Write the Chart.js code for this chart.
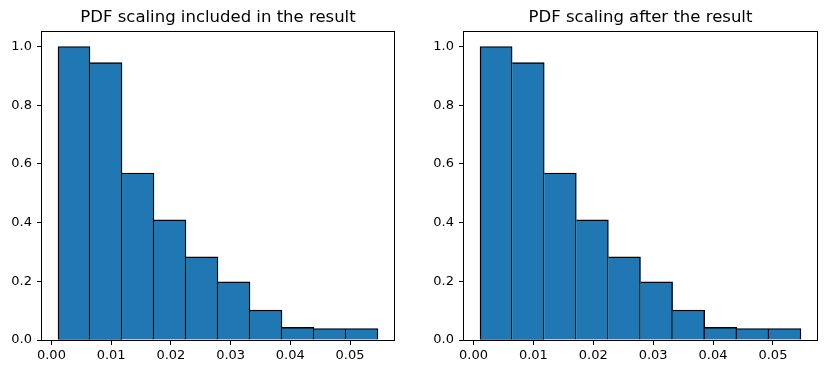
<!DOCTYPE html>
<html>
<head>
<meta charset="utf-8">
<script src="https://cdn.jsdelivr.net/npm/chart.js@4"></script>
<style>
  body { margin: 0; background: #fff; width: 826px; height: 374px; overflow: hidden; }
  canvas { position: absolute; top: 0; }
</style>
</head>
<body>
<canvas id="leftChart" width="413" height="374" style="left:0px"></canvas>
<canvas id="rightChart" width="404" height="374" style="left:422px"></canvas>
<script>
// histogram bin edges (10 bins) and normalised heights
const binEdges = [0.00110, 0.00646, 0.01182, 0.01717, 0.02253, 0.02789, 0.03325, 0.03861, 0.04397, 0.04932, 0.05468];
const includedValues = [1.0, 0.945, 0.569, 0.409, 0.283, 0.198, 0.102, 0.043, 0.039, 0.039];
const afterValues = [1.0, 0.945, 0.569, 0.409, 0.283, 0.198, 0.102, 0.043, 0.039, 0.039];
const xTicks = [0.00, 0.01, 0.02, 0.03, 0.04, 0.05];
const yTicks = [0.0, 0.2, 0.4, 0.6, 0.8, 1.0];

const FONT = 'DejaVu Sans';
Chart.defaults.font.family = FONT;
Chart.defaults.color = '#000';

// matplotlib-ish 5% margins around the bins
const span = binEdges[binEdges.length - 1] - binEdges[0];
const xMin = binEdges[0] - span * 0.05;
const xMax = binEdges[binEdges.length - 1] + span * 0.05;

// box around the plot area
const framePlugin = {
    id: 'frame',
    afterDatasetsDraw(chart) {
        const { ctx, chartArea: a } = chart;
        ctx.save();
        ctx.strokeStyle = '#000';
        ctx.lineWidth = 1;
        ctx.strokeRect(Math.round(a.left) - 0.5, Math.round(a.top) - 0.5,
            Math.round(a.right - a.left) + 1, Math.round(a.bottom - a.top) + 1);
        ctx.restore();
    }
};

function makeChart(id, title, values, padRight) {
    const centers = values.map((v, i) => (binEdges[i] + binEdges[i + 1]) / 2);
    return new Chart(document.getElementById(id), {
        type: 'bar',
        data: {
            datasets: [{
                data: values.map((v, i) => ({ x: centers[i], y: v })),
                backgroundColor: '#1f77b4',
                borderColor: '#000',
                borderSkipped: false,
                // one shared edge between neighbours, like matplotlib
                borderWidth: (c) => ({ top: 1.4, bottom: 0, right: 1.4, left: c.dataIndex === 0 ? 1.4 : 0 }),
                barPercentage: 1,
                categoryPercentage: 1,
                grouped: false
            }]
        },
        options: {
            responsive: false,
            animation: false,
            devicePixelRatio: 1,
            layout: { padding: { left: 0, right: padRight, top: 0, bottom: 0 } },
            plugins: {
                legend: { display: false },
                tooltip: { enabled: false },
                title: {
                    display: true,
                    text: title,
                    fullSize: false,
                    color: '#000',
                    font: { size: 16.5, weight: 'normal', lineHeight: 1.2 },
                    padding: { top: 8, bottom: 4 }
                }
            },
            scales: {
                x: {
                    type: 'linear',
                    min: xMin,
                    max: xMax,
                    offset: false,
                    afterBuildTicks: (s) => { s.ticks = xTicks.map(v => ({ value: v })); },
                    afterFit: (s) => { s.height = 34; },
                    border: { display: false },
                    grid: { drawOnChartArea: false, drawTicks: true, tickLength: 5, tickColor: '#000', offset: false },
                    ticks: {
                        padding: 3,
                        color: '#000',
                        font: { size: 13 },
                        maxRotation: 0,
                        autoSkip: false,
                        callback: (v) => Number(v).toFixed(2)
                    }
                },
                y: {
                    min: 0,
                    max: 1.05,
                    afterBuildTicks: (s) => { s.ticks = yTicks.map(v => ({ value: v })); },
                    afterFit: (s) => { s.width = 42; },
                    border: { display: false },
                    grid: { drawOnChartArea: false, drawTicks: true, tickLength: 5, tickColor: '#000' },
                    ticks: {
                        padding: 5,
                        color: '#000',
                        font: { size: 13 },
                        autoSkip: false,
                        callback: (v) => Number(v).toFixed(1)
                    }
                }
            }
        },
        plugins: [framePlugin]
    });
}

makeChart('leftChart', 'PDF scaling included in the result', includedValues, 19);
makeChart('rightChart', 'PDF scaling after the result', afterValues, 9);
</script>
</body>
</html>
